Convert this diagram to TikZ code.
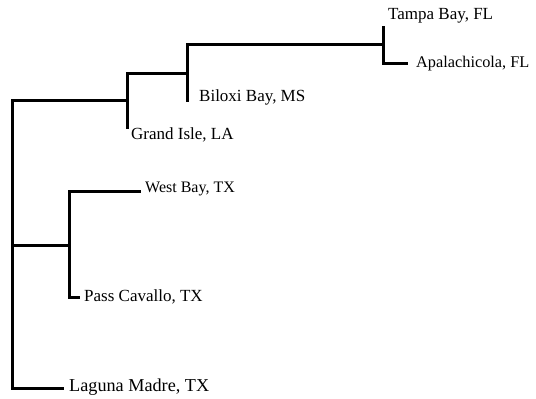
\documentclass[tikz,border=0pt]{standalone}
\usepackage{fontspec}
\setmainfont{Liberation Serif}
\begin{document}
\begin{tikzpicture}[x=1pt,y=-1pt,
  branch/.style={line width=3pt,line cap=rect},
  leaf/.style={anchor=west,inner sep=0pt,font=\fontsize{17}{20}\selectfont}]
\useasboundingbox (0,0) rectangle (536,399);
% internal coordinates
\coordinate (rtop) at (12,100);
\coordinate (rmid) at (12,245);
\coordinate (rbot) at (12,388);
\coordinate (a) at (127,100);
\coordinate (aup) at (127,73);
\coordinate (adn) at (127,127);
\coordinate (b) at (187,73);
\coordinate (bup) at (187,44);
\coordinate (bdn) at (187,100);
\coordinate (c) at (383,44);
\coordinate (cup) at (383,27);
\coordinate (cdn) at (383,63);
\coordinate (capa) at (406,63);
\coordinate (d) at (69,245);
\coordinate (dup) at (69,191);
\coordinate (ddn) at (69,297);
\coordinate (dwest) at (139,191);
\coordinate (dpass) at (78,297);
\coordinate (lag) at (62,388);
% labels
\node[leaf] (tampa) at (388,16) {Tampa Bay, FL};
\node[leaf,font=\fontsize{16.3}{20}\selectfont] (apal) at (416,64) {Apalachicola, FL};
\node[leaf] (biloxi) at (199,97) {Biloxi Bay, MS};
\node[leaf] (grand) at (131,135) {Grand Isle, LA};
\node[leaf,font=\fontsize{16}{20}\selectfont] (west) at (145,189) {West Bay, TX};
\node[leaf] (pass) at (84,297) {Pass Cavallo, TX};
\node[leaf,font=\fontsize{18.2}{20}\selectfont] (laguna) at (69,387) {Laguna Madre, TX};
% branches
\draw[branch] (rtop) -- (rbot);
\draw[branch] (rtop) -- (a);
\draw[branch] (aup) -- (adn);
\draw[branch] (aup) -- (b);
\draw[branch] (bup) -- (bdn);
\draw[branch] (bup) -- (c);
\draw[branch] (cup) -- (cdn);
\draw[branch] (cdn) -- (capa);
\draw[branch] (rmid) -- (d);
\draw[branch] (dup) -- (ddn);
\draw[branch] (dup) -- (dwest);
\draw[branch] (ddn) -- (dpass);
\draw[branch] (rbot) -- (lag);
\end{tikzpicture}
\end{document}
